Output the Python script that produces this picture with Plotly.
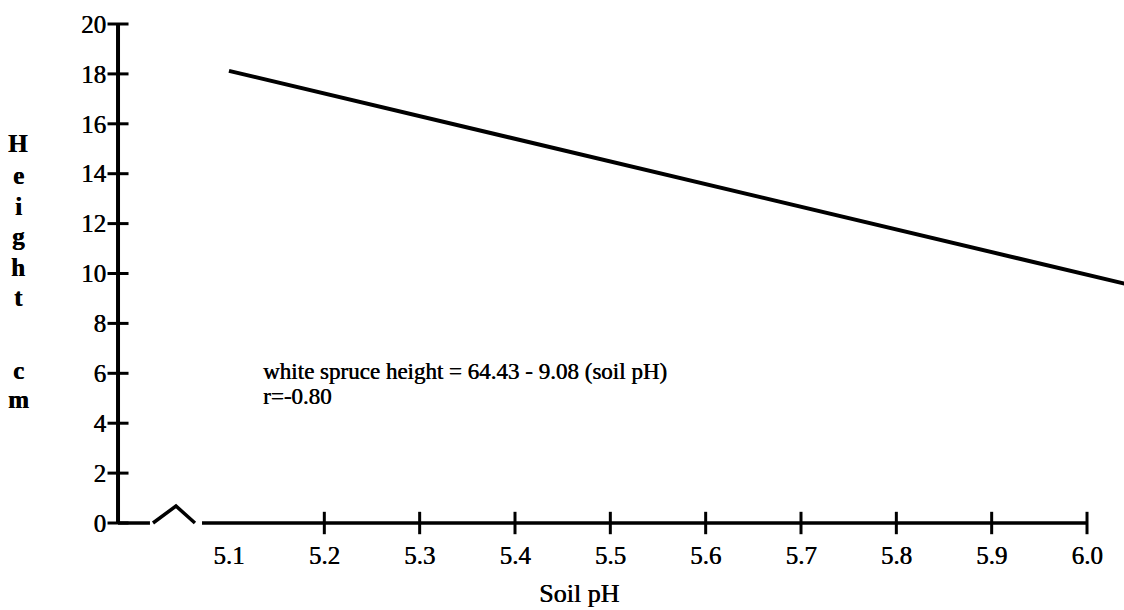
import plotly.graph_objects as go

# Regression of white spruce height on soil pH
INTERCEPT = 64.43
SLOPE = -9.08
R_VALUE = -0.80
ph_line = [5.10, 6.05]
height_line = [INTERCEPT + SLOPE * p for p in ph_line]

# Axis ticks
y_ticks = [0, 2, 4, 6, 8, 10, 12, 14, 16, 18, 20]
x_label_ticks = [5.1, 5.2, 5.3, 5.4, 5.5, 5.6, 5.7, 5.8, 5.9, 6.0]
x_mark_ticks = [5.2, 5.3, 5.4, 5.5, 5.6, 5.7, 5.8, 5.9, 6.0]

# Axis origin and the broken-axis zigzag near it
x_origin = 4.9836
break_left = [x_origin, 5.0171]
break_zig_x = [5.0203, 5.0444, 5.0643]
break_zig_y = [0, 0.68, 0]
axis_right = [5.0717, 6.0]

FONT = "Liberation Serif"
INK = "black"
HEAVY = "0.5px 0px 0px black"

W, H = 1124, 610
L, R, T, B = 100, 0, 10, 70
x_range = [4.9647, 6.0388]
y_range = [-0.681, 20.561]


def tf(size, bold=False):
    return dict(family=FONT, size=size, color=INK, shadow=HEAVY,
                weight="bold" if bold else "normal")


fig = go.Figure()

# y axis line and crossing ticks
fig.add_trace(go.Scatter(x=[x_origin, x_origin], y=[y_ticks[0], y_ticks[-1]],
                         mode="lines", line=dict(color=INK, width=4),
                         hoverinfo="skip", showlegend=False))
fig.add_trace(go.Scatter(x=[x_origin] * len(y_ticks), y=y_ticks, mode="markers",
                         marker=dict(symbol="line-ew", size=15,
                                     line=dict(color=INK, width=3)),
                         hoverinfo="skip", showlegend=False))

# broken x axis
for xs, ys in [(break_left, [0, 0]), (break_zig_x, break_zig_y), (axis_right, [0, 0])]:
    fig.add_trace(go.Scatter(x=xs, y=ys, mode="lines",
                             line=dict(color=INK, width=3.5),
                             hoverinfo="skip", showlegend=False))
fig.add_trace(go.Scatter(x=x_mark_ticks, y=[0] * len(x_mark_ticks), mode="markers",
                         marker=dict(symbol="line-ns", size=16,
                                     line=dict(color=INK, width=3)),
                         hoverinfo="skip", showlegend=False))

# regression line
fig.add_trace(go.Scatter(x=ph_line, y=height_line, mode="lines",
                         line=dict(color=INK, width=4),
                         hoverinfo="skip", showlegend=False))

plot_w = W - L - R
plot_h = H - T - B
x_axis_pos = (0 - y_range[0]) / (y_range[1] - y_range[0])
y_axis_pos = (x_origin - x_range[0]) / (x_range[1] - x_range[0])

fig.update_layout(
    width=W, height=H,
    margin=dict(l=L, r=R, t=T, b=B),
    paper_bgcolor="white", plot_bgcolor="white",
    font=dict(family=FONT, color=INK, size=23),
    xaxis=dict(range=x_range, showgrid=False, zeroline=False, showline=False,
               tickvals=x_label_ticks, ticktext=[f"{v:.1f}" for v in x_label_ticks],
               ticks="outside", ticklen=10, tickcolor="rgba(0,0,0,0)",
               anchor="free", position=x_axis_pos, tickfont=tf(25)),
    yaxis=dict(range=y_range, showgrid=False, zeroline=False, showline=False,
               tickvals=y_ticks, ticktext=[str(v) for v in y_ticks],
               ticks="outside", ticklen=7, tickcolor="rgba(0,0,0,0)",
               anchor="free", position=y_axis_pos, tickfont=tf(25)),
)

# x axis title
fig.add_annotation(text="Soil pH", xref="paper", yref="paper",
                   x=(579 - L) / plot_w, y=(T + plot_h - 593) / plot_h,
                   xanchor="center", yanchor="middle",
                   showarrow=False, font=tf(26))

# vertically stacked y axis title
letters = ["H", "e", "i", "g", "h", "t", "c", "m"]
letter_y = [143, 175, 206, 236, 267, 297, 370, 399]
for ch, py in zip(letters, letter_y):
    fig.add_annotation(text=ch, xref="paper", yref="paper",
                       x=(18 - L) / plot_w, y=(T + plot_h - py) / plot_h,
                       xanchor="center", yanchor="middle", showarrow=False,
                       font=tf(25, bold=True))

# equation and correlation text
eq_lines = [f"white spruce height = {INTERCEPT:.2f} - {abs(SLOPE):.2f} (soil pH)",
            f"r={R_VALUE:.2f}"]
for line, py in zip(eq_lines, [371, 396]):
    fig.add_annotation(text=line, xref="paper", yref="paper",
                       x=(261 - L) / plot_w, y=(T + plot_h - py) / plot_h,
                       xanchor="left", yanchor="middle", showarrow=False,
                       font=tf(23))

fig.write_html("out.html")
